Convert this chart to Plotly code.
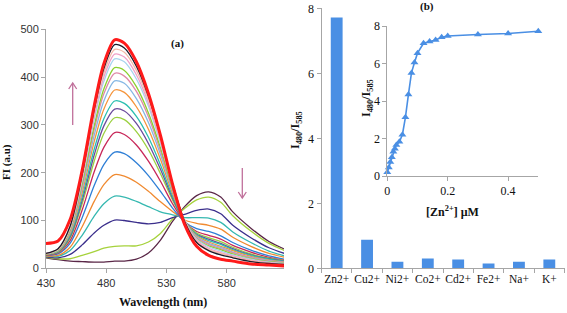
import plotly.graph_objects as go

W, H = 567, 313

# ---------------- panel (a): fluorescence spectra ----------------
wavelength = [430, 440, 450, 460, 470, 478, 487, 495, 505, 515, 525, 535, 545, 555, 565, 575, 585, 600, 615, 628]

fl_00 = [22, 18, 15, 14, 13, 13, 15, 15, 19, 32, 59, 98, 129, 152, 160, 149, 118, 84, 56, 40]
fl_01 = [23, 20, 20, 27, 35, 42, 46, 47, 47, 55, 73, 103, 125, 143, 149, 138, 110, 78, 52, 37]
fl_02 = [24, 22, 29, 49, 74, 90, 101, 100, 96, 93, 96, 106, 113, 121, 124, 114, 90, 64, 43, 31]
fl_03 = [25, 25, 37, 69, 109, 135, 151, 149, 140, 129, 118, 112, 106, 106, 105, 96, 76, 54, 36, 26]
fl_04 = [26, 27, 44, 87, 140, 175, 196, 193, 180, 161, 139, 119, 101, 94, 90, 82, 65, 46, 31, 23]
fl_05 = [27, 30, 52, 106, 173, 217, 243, 240, 221, 194, 161, 126, 97, 83, 77, 68, 54, 38, 26, 19]
fl_06 = [27, 32, 58, 122, 202, 253, 284, 280, 258, 224, 182, 135, 97, 77, 69, 61, 48, 34, 23, 17]
fl_07 = [28, 33, 63, 135, 224, 282, 315, 311, 286, 248, 198, 143, 98, 74, 64, 56, 44, 30, 21, 16]
fl_08 = [28, 34, 66, 142, 237, 298, 333, 329, 303, 261, 207, 147, 97, 71, 61, 52, 41, 28, 20, 15]
fl_09 = [29, 35, 69, 149, 249, 313, 350, 345, 318, 274, 216, 151, 98, 70, 58, 50, 39, 27, 19, 14]
fl_10 = [29, 36, 73, 158, 265, 333, 373, 368, 338, 291, 228, 157, 99, 68, 55, 46, 37, 25, 17, 13]
fl_11 = [30, 37, 76, 166, 278, 350, 392, 387, 355, 305, 238, 162, 100, 66, 52, 44, 34, 23, 16, 12]
fl_12 = [30, 38, 78, 172, 290, 365, 408, 402, 370, 317, 246, 166, 100, 64, 50, 41, 33, 22, 15, 12]
fl_13 = [30, 38, 80, 177, 298, 375, 420, 414, 380, 325, 252, 168, 100, 62, 47, 39, 30, 20, 14, 11]
fl_14 = [31, 39, 83, 184, 311, 391, 438, 432, 396, 339, 261, 173, 100, 61, 45, 36, 28, 19, 13, 10]
fl_15 = [31, 40, 85, 188, 318, 400, 448, 442, 405, 346, 266, 175, 100, 59, 42, 33, 26, 17, 12, 10]
fl_16 = [31, 40, 86, 192, 325, 409, 458, 452, 414, 353, 271, 176, 99, 56, 39, 31, 24, 16, 11, 9]
fl_17 = [31, 41, 88, 196, 332, 418, 468, 461, 423, 360, 276, 178, 98, 54, 37, 28, 22, 14, 10, 8]
fl_18 = [52, 57, 102, 205, 340, 428, 478, 471, 432, 366, 278, 176, 92, 46, 27, 19, 15, 9, 7, 5]

spectra = [fl_00, fl_01, fl_02, fl_03, fl_04, fl_05, fl_06, fl_07, fl_08, fl_09,
           fl_10, fl_11, fl_12, fl_13, fl_14, fl_15, fl_16, fl_17, fl_18]
spectra_colors = ["#5a2747", "#a6d23c", "#3b2f8c", "#35b8b0", "#f08a30", "#2f7fd6",
                  "#c8285a", "#9bd040", "#6a4a9c", "#2abfb0", "#f5943a", "#86b8e4",
                  "#e08aa8", "#8dd030", "#a8d4ee", "#f0a0c8", "#f4b8a8", "#1a1a2a", "#ff1a1a"]
x_ticks_a = [430, 480, 530, 580]
y_ticks_a = [0, 100, 200, 300, 400, 500]

# ---------------- panel (b): selectivity bars ----------------
ions = ["Zn2+", "Cu2+", "Ni2+", "Co2+", "Cd2+", "Fe2+", "Na+", "K+"]
ratio = [7.72, 0.88, 0.20, 0.30, 0.27, 0.15, 0.20, 0.27]

# ---------------- inset: titration ----------------
zn_conc = [0, 0.005, 0.01, 0.015, 0.02, 0.025, 0.03, 0.04, 0.05, 0.06, 0.07, 0.08,
           0.09, 0.1, 0.12, 0.14, 0.16, 0.18, 0.2, 0.3, 0.4, 0.5]
zn_ratio = [0.2, 0.45, 0.75, 1.0, 1.3, 1.45, 1.65, 1.83, 2.2, 3.13, 4.35, 5.5,
            6.05, 6.55, 7.08, 7.18, 7.25, 7.4, 7.47, 7.55, 7.6, 7.72]


def fx(px):
    return px / W


def fy(py):
    return 1 - py / H


fig = go.Figure()

for vals, col in zip(spectra, spectra_colors):
    is_last = vals is fl_18
    fig.add_trace(go.Scatter(
        x=wavelength, y=vals, mode="lines",
        line=dict(color=col, width=3 if is_last else 1.3, shape="spline", smoothing=0.8),
        xaxis="x", yaxis="y", showlegend=False, hoverinfo="skip"))

BLUE = "#4a8fe4"
fig.add_trace(go.Bar(x=ions, y=ratio, marker=dict(color=BLUE, line=dict(width=0)),
                     width=0.39, xaxis="x2", yaxis="y2", showlegend=False))

fig.add_trace(go.Scatter(x=zn_conc, y=zn_ratio, mode="lines+markers",
                         line=dict(color=BLUE, width=1.6),
                         marker=dict(symbol="triangle-up", size=7, color=BLUE),
                         xaxis="x3", yaxis="y3", showlegend=False, cliponaxis=False))

AX = "#a6a6a6"
sans = dict(family="Liberation Sans, Arial", size=11, color="#333333")
serif = dict(family="Liberation Serif, Times New Roman", size=12, color="#111111")

common = dict(showgrid=False, zeroline=False, showline=True, linecolor=AX, linewidth=1,
              ticks="outside", ticklen=4, tickcolor=AX, fixedrange=True, automargin=False)

fig.update_layout(
    width=W, height=H, margin=dict(l=0, r=0, t=0, b=0, autoexpand=False),
    paper_bgcolor="white", plot_bgcolor="white",
    xaxis=dict(domain=[fx(46), fx(284)], range=[430, 627.5], tickvals=x_ticks_a,
               anchor="y", tickfont=sans, tickangle=0, **common),
    yaxis=dict(domain=[fy(268.3), fy(29.3)], range=[0, 500], tickvals=y_ticks_a,
               anchor="x", tickfont=sans, **common),
    xaxis2=dict(domain=[fx(321.5), fx(564.5)], type="category", anchor="y2",
                tickson="boundaries", tickangle=0,
                tickfont=dict(family="Liberation Serif, Times New Roman", size=11.5, color="#111111"),
                **common),
    yaxis2=dict(domain=[fy(268.3), fy(8.3)], range=[0, 8], tickvals=[0, 2, 4, 6, 8],
                anchor="x2", tickfont=serif, **common),
    xaxis3=dict(domain=[fx(387.3), fx(538.3)], range=[0, 0.5], tickvals=[0, 0.2, 0.4],
                anchor="y3", tickfont=serif, tickangle=0, **common),
    yaxis3=dict(domain=[fy(176), fy(26)], range=[0, 8], tickvals=[0, 2, 4, 6, 8],
                anchor="x3", tickfont=serif, **common),
)

ann_font = dict(family="Liberation Serif, Times New Roman", color="#111111")


def label(text, px, py, size=12, angle=0):
    fig.add_annotation(text=text, x=fx(px), y=fy(py), xref="paper", yref="paper",
                       showarrow=False, textangle=angle, xanchor="center", yanchor="middle",
                       font=dict(size=size, **ann_font))


label("<b>(a)</b>", 177, 43, 11)
label("<b>(b)</b>", 427, 7, 11)
label("<b>Wavelength (nm)</b>", 163, 301.5, 12)
label("<b>FI (a.u)</b>", 7, 162, 11, -90)
label("<b>I<sub>480</sub>/I<sub>585</sub></b>", 296, 130, 12, -90)
label("<b>I<sub>480</sub>/I<sub>585</sub></b>", 367, 98, 12, -90)
label("<b>[Zn<sup>2+</sup>] μM</b>", 452, 211, 12)

ARROW = "#c0709b"


def arrow(xp, y_from, y_to):
    fig.add_shape(type="line", xref="paper", yref="paper",
                  x0=fx(xp), x1=fx(xp), y0=fy(y_from), y1=fy(y_to),
                  line=dict(color=ARROW, width=1.3))
    d = 6 if y_to < y_from else -6
    path = "M {} {} L {} {} L {} {}".format(fx(xp - 4), fy(y_to + d), fx(xp), fy(y_to),
                                            fx(xp + 4), fy(y_to + d))
    fig.add_shape(type="path", xref="paper", yref="paper", path=path,
                  line=dict(color=ARROW, width=1.3))


arrow(72.7, 125, 83)
arrow(242.3, 168, 198)

fig.write_html("out.html", config={"displayModeBar": False, "staticPlot": True},
               post_script="document.body.style.margin='0';document.body.style.overflow='hidden';")
